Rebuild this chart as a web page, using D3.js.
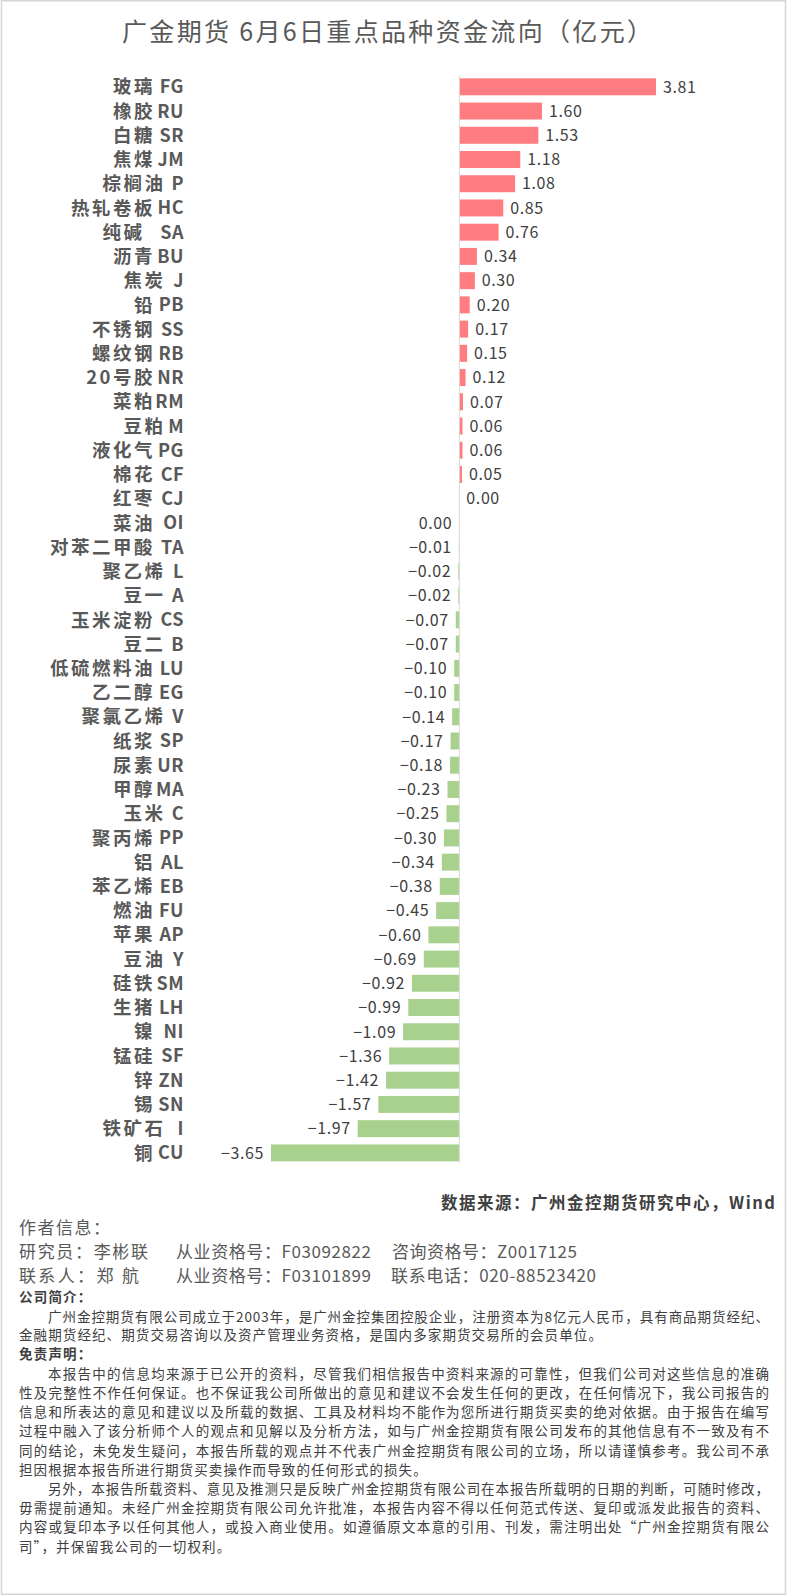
<!DOCTYPE html>
<html>
<head>
<meta charset="utf-8">
<script src="https://cdn.jsdelivr.net/npm/d3@7"></script>
<style>
  body { margin: 0; background: #fff; }
  svg { display: block; font-family: "Noto Sans CJK SC", "Noto Sans", sans-serif; }
</style>
</head>
<body>
<svg id="chart"></svg>
<script>
// categories (name + exchange code) and net fund flow, 100m yuan
var categories = ["玻璃 FG","橡胶 RU","白糖 SR","焦煤 JM","棕榈油 P","热轧卷板 HC","纯碱  SA","沥青 BU","焦炭 J","铅 PB",
    "不锈钢 SS","螺纹钢 RB","20号胶 NR","菜粕 RM","豆粕 M","液化气 PG","棉花 CF","红枣 CJ","菜油 OI","对苯二甲酸 TA",
    "聚乙烯 L","豆一 A","玉米淀粉 CS","豆二 B","低硫燃料油 LU","乙二醇 EG","聚氯乙烯 V","纸浆 SP","尿素 UR","甲醇 MA",
    "玉米 C","聚丙烯 PP","铝 AL","苯乙烯 EB","燃油 FU","苹果 AP","豆油 Y","硅铁 SM","生猪 LH","镍 NI",
    "锰硅 SF","锌 ZN","锡 SN","铁矿石 I","铜 CU"];
// 菜油 OI shows 0.00 but sits on the negative side
var values = [3.81,1.60,1.53,1.18,1.08,0.85,0.76,0.34,0.30,0.20,
    0.17,0.15,0.12,0.07,0.06,0.06,0.05,0.00,-0.001,-0.01,
    -0.02,-0.02,-0.07,-0.07,-0.10,-0.10,-0.14,-0.17,-0.18,-0.23,
    -0.25,-0.30,-0.34,-0.38,-0.45,-0.60,-0.69,-0.92,-0.99,-1.09,
    -1.36,-1.42,-1.57,-1.97,-3.65];

var title = "广金期货 6月6日重点品种资金流向（亿元）";
var source = "数据来源：广州金控期货研究中心，Wind";

// footer paragraphs: [text, indent, justified]
var introLines = [
    ["广州金控期货有限公司成立于2003年，是广州金控集团控股企业，注册资本为8亿元人民币，具有商品期货经纪、", true, true],
    ["金融期货经纪、期货交易咨询以及资产管理业务资格，是国内多家期货交易所的会员单位。", false, false]
];
var disclaimerLines = [
    ["本报告中的信息均来源于已公开的资料，尽管我们相信报告中资料来源的可靠性，但我们公司对这些信息的准确", true, true],
    ["性及完整性不作任何保证。也不保证我公司所做出的意见和建议不会发生任何的更改，在任何情况下，我公司报告的", false, true],
    ["信息和所表达的意见和建议以及所载的数据、工具及材料均不能作为您所进行期货买卖的绝对依据。由于报告在编写", false, true],
    ["过程中融入了该分析师个人的观点和见解以及分析方法，如与广州金控期货有限公司发布的其他信息有不一致及有不", false, true],
    ["同的结论，未免发生疑问，本报告所载的观点并不代表广州金控期货有限公司的立场，所以请谨慎参考。我公司不承", false, true],
    ["担因根据本报告所进行期货买卖操作而导致的任何形式的损失。", false, false],
    ["另外，本报告所载资料、意见及推测只是反映广州金控期货有限公司在本报告所载明的日期的判断，可随时修改，", true, true],
    ["毋需提前通知。未经广州金控期货有限公司允许批准，本报告内容不得以任何范式传送、复印或派发此报告的资料、", false, true],
    ["内容或复印本予以任何其他人，或投入商业使用。如遵循原文本意的引用、刊发，需注明出处“广州金控期货有限公", false, true],
    ["司”，并保留我公司的一切权利。", false, false]
];

var svgWidth = 788, svgHeight = 1596;
var svg = d3.select("#chart").attr("width", svgWidth).attr("height", svgHeight);

// light frame around the picture
svg.append("rect")
    .attr("x", 1.5).attr("y", 0.75)
    .attr("width", svgWidth - 4).attr("height", svgHeight - 2.5)
    .attr("fill", "#fff").attr("stroke", "#d6d6d6").attr("stroke-width", 1.5);

svg.append("text")
    .attr("x", 387).attr("y", 32).attr("dy", "0.35em")
    .attr("text-anchor", "middle")
    .attr("font-size", 25).attr("fill", "#595959")
    .attr("textLength", 530).attr("lengthAdjust", "spacing")
    .text(title);

// scales
var x = d3.scaleLinear()
    .domain(d3.extent(values))
    .range([271, 656]);

var y = d3.scaleBand()
    .domain(categories)
    .range([74.7, 1165])
    .paddingInner(0.3)
    .paddingOuter(0.15);

var rows = categories.map(function(c, i) { return { cat: c, value: values[i] }; });

function fmt(v) {
    var s = Math.abs(v).toFixed(2);
    return (v < 0 && s !== "0.00") ? "\u2212" + s : s;
}

// bars
svg.append("g").selectAll("rect")
    .data(rows)
    .join("rect")
    .attr("x", function(d) { return Math.min(x(0), x(d.value)); })
    .attr("y", function(d) { return y(d.cat); })
    .attr("width", function(d) { return Math.abs(x(d.value) - x(0)); })
    .attr("height", y.bandwidth())
    .attr("fill", function(d) { return d.value >= 0 ? "#ff7c80" : "#a9d18e"; });

// zero axis line
svg.append("line")
    .attr("x1", x(0)).attr("x2", x(0))
    .attr("y1", 75).attr("y2", 1163)
    .attr("stroke", "#d9d9d9").attr("stroke-width", 1);

// value labels
svg.append("g").selectAll("text")
    .data(rows)
    .join("text")
    .attr("x", function(d) { return d.value >= 0 ? x(d.value) + 7 : x(d.value) - 7; })
    .attr("y", function(d) { return y(d.cat) + y.bandwidth() / 2; })
    .attr("dy", "0.36em")
    .attr("text-anchor", function(d) { return d.value >= 0 ? "start" : "end"; })
    .attr("font-size", 16).attr("fill", "#404040")
    .attr("letter-spacing", 0.6)
    .text(function(d) { return fmt(d.value); });

// category labels: code right-aligned, name laid out on a half-width grid
var labelRight = 184, cell = 10.5;
var lab = svg.append("g").selectAll("g")
    .data(rows)
    .join("g")
    .attr("transform", function(d) { return "translate(0," + (y(d.cat) + y.bandwidth() / 2) + ")"; });

lab.append("text")
    .attr("x", labelRight).attr("dy", "0.36em")
    .attr("text-anchor", "end")
    .attr("font-size", 18).attr("font-weight", 700).attr("fill", "#595959")
    .attr("letter-spacing", 0.5)
    .text(function(d) { return d.cat.match(/^(.*?)(\s+)(\S+)$/)[3]; });

lab.append("text")
    .attr("x", function(d) {
        var m = d.cat.match(/^(.*?)(\s+)(\S+)$/);
        return labelRight - (m[2].length + m[3].length) * cell + 2.5;
    })
    .attr("dy", "0.36em")
    .attr("text-anchor", "end")
    .attr("font-size", 18.5).attr("font-weight", 700).attr("fill", "#595959")
    .attr("letter-spacing", 2.5)
    .text(function(d) { return d.cat.match(/^(.*?)(\s+)(\S+)$/)[1]; });

// footer
var ft = svg.append("g").attr("fill", "#404040");

ft.append("text")
    .attr("x", 775).attr("y", 1203).attr("dy", "0.35em")
    .attr("text-anchor", "end")
    .attr("font-size", 16.5).attr("font-weight", 700)
    .attr("textLength", 334).attr("lengthAdjust", "spacing")
    .text(source);

ft.append("text")
    .attr("x", 19).attr("y", 1228).attr("dy", "0.35em")
    .attr("font-size", 17).attr("letter-spacing", 1.5).attr("fill", "#595959")
    .text("作者信息：");

var authorRows = [
    [1252, [["研究员：李彬联", 19, 129], ["从业资格号：F03092822", 176, 195], ["咨询资格号：Z0017125", 392, 185]]],
    [1276, [["联系人：郑 航", 19, 120], ["从业资格号：F03101899", 176, 195], ["联系电话：020-88523420", 391, 205]]]
];
authorRows.forEach(function(r) {
    r[1].forEach(function(s) {
        ft.append("text")
            .attr("x", s[1]).attr("y", r[0]).attr("dy", "0.35em")
            .attr("font-size", 17).attr("fill", "#595959")
            .attr("textLength", s[2]).attr("lengthAdjust", "spacing")
            .text(s[0]);
    });
});

function heading(txt, yy) {
    ft.append("text")
        .attr("x", 19).attr("y", yy).attr("dy", "0.35em")
        .attr("font-size", 13.5).attr("letter-spacing", 1.2).attr("font-weight", 700)
        .text(txt);
}

function para(lines, y0, step) {
    lines.forEach(function(l, i) {
        var x0 = l[1] ? 48 : 19;
        var t = ft.append("text")
            .attr("x", x0).attr("y", y0 + i * step).attr("dy", "0.35em")
            .attr("font-size", 13.5).attr("letter-spacing", 1.1)
            .text(l[0]);
        if (l[2]) t.attr("textLength", 770 - x0).attr("lengthAdjust", "spacing");
    });
}

heading("公司简介：", 1297);
para(introLines, 1317, 18.5);
heading("免责声明：", 1354);
para(disclaimerLines, 1374, 19.2);
</script>
</body>
</html>
